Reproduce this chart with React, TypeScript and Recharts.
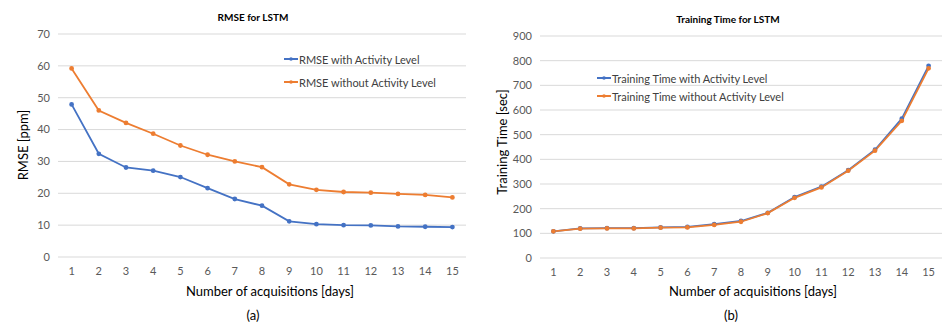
import React from "react";
import { LineChart, Line, XAxis, YAxis, CartesianGrid } from "recharts";

const days = ["1", "2", "3", "4", "5", "6", "7", "8", "9", "10", "11", "12", "13", "14", "15"];

const rmseWith = [47.9, 32.4, 28.1, 27.1, 25.1, 21.6, 18.2, 16.1, 11.2, 10.3, 10.0, 9.9, 9.6, 9.5, 9.4];
const rmseWithout = [59.2, 46.0, 42.1, 38.7, 35.0, 32.1, 30.0, 28.2, 22.8, 21.1, 20.4, 20.2, 19.8, 19.5, 18.7];

const timeWith = [108, 120, 121, 121, 124, 126, 137, 150, 183, 247, 289, 356, 439, 565, 779];
const timeWithout = [108, 119, 120, 120, 123, 124, 134, 147, 182, 244, 286, 354, 435, 556, 769];

const rmseTicks = [0, 10, 20, 30, 40, 50, 60, 70];
const timeTicks = [0, 100, 200, 300, 400, 500, 600, 700, 800, 900];

const BLUE = "#4472C4";
const ORANGE = "#ED7D31";
const FONT = "Lato, 'Open Sans', sans-serif";

const rmseData = days.map((d, i) => ({ day: d, with: rmseWith[i], without: rmseWithout[i] }));
const timeData = days.map((d, i) => ({ day: d, with: timeWith[i], without: timeWithout[i] }));

// legend drawn outside the chart so it doesn't eat plot space
const LegendBox = ({ items, left, top, gap }: { items: { label: string; color: string }[]; left: number; top: number; gap: number }) => (
  <div style={{ position: "absolute", left, top, fontFamily: FONT, fontSize: 11, color: "#404040" }}>
    {items.map((it, i) => (
      <div key={i} style={{ display: "flex", alignItems: "center", height: 12, marginTop: i === 0 ? 0 : gap - 12 }}>
        <svg width={14} height={6} style={{ marginRight: 1 }}>
          <line x1={0} y1={3} x2={14} y2={3} stroke={it.color} strokeWidth={2} />
          <circle cx={7} cy={3} r={1.8} fill={it.color} />
        </svg>
        <span>{it.label}</span>
      </div>
    ))}
  </div>
);

const text = (s: string, x: number, y: number, size: number, extra: React.CSSProperties = {}) => (
  <div
    style={{
      position: "absolute",
      left: x,
      top: y,
      transform: "translate(-50%, -50%)",
      whiteSpace: "nowrap",
      fontFamily: FONT,
      fontSize: size,
      color: "#000",
      ...extra,
    }}
  >
    {s}
  </div>
);

const tickStyle = { fill: "#595959", fontSize: 11, fontFamily: FONT };

export default function App() {
  return (
    <div style={{ position: "absolute", left: 0, top: 0, width: 945, height: 322, background: "#fff" }}>
      <div style={{ position: "absolute", left: 0, top: 0 }}>
        <LineChart width={470} height={322} data={rmseData} margin={{ top: 34, right: 4, left: 8, bottom: 40 }}>
          <CartesianGrid vertical={false} stroke="#d9d9d9" />
          <XAxis dataKey="day" axisLine={false} tickLine={false} tick={tickStyle} tickMargin={4} height={25} interval={0} padding={{ left: 13.6, right: 13.6 }} />
          <YAxis domain={[0, 70]} ticks={rmseTicks} axisLine={false} tickLine={false} tick={tickStyle} width={50} />
          <Line dataKey="with" stroke={BLUE} strokeWidth={1.8} dot={{ r: 1.5, fill: BLUE, stroke: BLUE }} isAnimationActive={false} />
          <Line dataKey="without" stroke={ORANGE} strokeWidth={1.8} dot={{ r: 1.5, fill: ORANGE, stroke: ORANGE }} isAnimationActive={false} />
        </LineChart>
      </div>
      <div style={{ position: "absolute", left: 470, top: 0 }}>
        <LineChart width={475} height={322} data={timeData} margin={{ top: 36, right: 3, left: 8, bottom: 39 }}>
          <CartesianGrid vertical={false} stroke="#d9d9d9" />
          <XAxis dataKey="day" axisLine={false} tickLine={false} tick={tickStyle} tickMargin={4} height={25} interval={0} padding={{ left: 13.4, right: 13.4 }} />
          <YAxis domain={[0, 900]} ticks={timeTicks} axisLine={false} tickLine={false} tick={tickStyle} width={62} />
          <Line dataKey="with" stroke={BLUE} strokeWidth={1.8} dot={{ r: 1.5, fill: BLUE, stroke: BLUE }} isAnimationActive={false} />
          <Line dataKey="without" stroke={ORANGE} strokeWidth={1.8} dot={{ r: 1.5, fill: ORANGE, stroke: ORANGE }} isAnimationActive={false} />
        </LineChart>
      </div>
      <LegendBox
        left={284}
        top={53}
        gap={23}
        items={[
          { label: "RMSE with Activity Level", color: BLUE },
          { label: "RMSE without Activity Level", color: ORANGE },
        ]}
      />
      <LegendBox
        left={597}
        top={72}
        gap={18}
        items={[
          { label: "Training Time with Activity Level", color: BLUE },
          { label: "Training Time without Activity Level", color: ORANGE },
        ]}
      />
      {text("RMSE for LSTM", 253, 17, 10, { fontWeight: "bold" })}
      {text("Training Time for LSTM", 728, 19, 10, { fontWeight: "bold" })}
      {text("RMSE [ppm]", 23, 145, 13, { transform: "translate(-50%, -50%) rotate(-90deg)" })}
      {text("Training Time [sec]", 502, 142, 13, { transform: "translate(-50%, -50%) rotate(-90deg)" })}
      {text("Number of acquisitions [days]", 270, 291, 13)}
      {text("Number of acquisitions [days]", 753, 291, 13)}
      {text("(a)", 253, 315, 13)}
      {text("(b)", 731, 315, 13)}
    </div>
  );
}
